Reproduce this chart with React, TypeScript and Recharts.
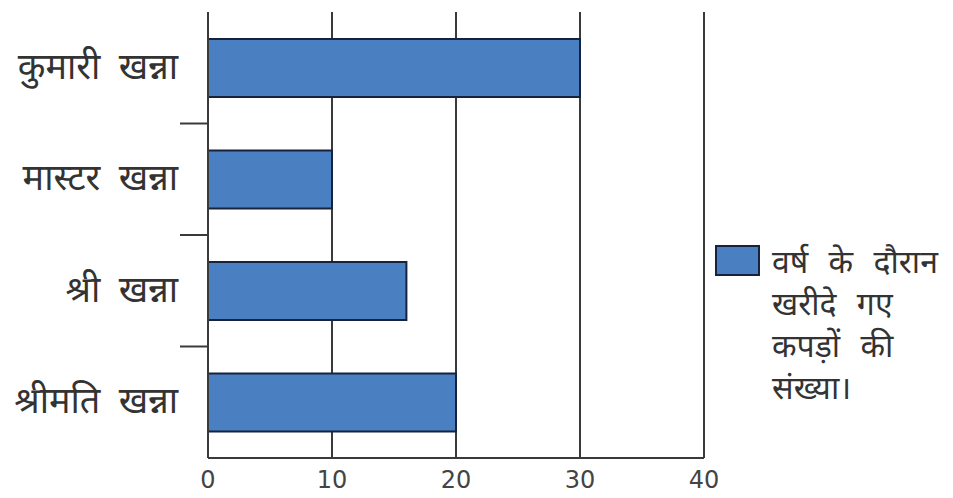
import { BarChart, Bar, XAxis, YAxis, CartesianGrid } from 'recharts';

// data
const persons = ['कुमारी खन्ना', 'मास्टर खन्ना', 'श्री खन्ना', 'श्रीमति खन्ना'];
const clothesBought = [30, 10, 16, 20];
const xTicks = [0, 10, 20, 30, 40];
const legendLines = ['वर्ष के दौरान', 'खरीदे गए', 'कपड़ों की', 'संख्या।'];

const chartData = persons.map((name, i) => ({
  name,
  value: clothesBought[i],
}));

const FONT = '"Noto Sans", "DejaVu Sans", sans-serif';
const BAR_FILL = '#4a80c2';
const BAR_STROKE = '#15233f';
const LINE = '#3a3a3a';

// y tick: label + small mark at the boundary above each band (not the first)
function PersonTick(props: any) {
  const { x, y, payload, index } = props;
  const off = payload?.offset ?? 0;
  const ax = x + 8; // tick x is shifted by tickSize, get back to the axis line
  return (
    <g>
      {index > 0 && (
        <line x1={ax - 28} x2={ax} y1={y - off} y2={y - off} stroke={LINE} strokeWidth={2} />
      )}
      <text
        x={ax - 30}
        y={y}
        dy={11}
        textAnchor="end"
        fill="#333"
        fontSize={36}
        wordSpacing={9}
        fontFamily={FONT}
      >
        {payload.value}
      </text>
    </g>
  );
}

export default function App() {
  return (
    <div style={{ position: 'absolute', left: 0, top: 0, width: 953, height: 498, background: '#fff' }}>
      <BarChart
        width={953}
        height={498}
        data={chartData}
        layout="vertical"
        margin={{ top: 12, right: 249, bottom: 0, left: 0 }}
        barSize={58}
      >
        <CartesianGrid horizontal={false} stroke={LINE} strokeWidth={2} />
        <XAxis
          type="number"
          domain={[0, 40]}
          ticks={xTicks}
          axisLine={{ stroke: LINE, strokeWidth: 2 }}
          tickLine={false}
          tickMargin={7}
          tick={{ fill: '#444', fontSize: 24, fontFamily: '"DejaVu Sans", sans-serif' }}
          height={40}
        />
        <YAxis
          type="category"
          dataKey="name"
          width={208}
          axisLine={{ stroke: LINE, strokeWidth: 2 }}
          tickLine={false}
          tick={<PersonTick />}
        />
        <Bar
          dataKey="value"
          fill={BAR_FILL}
          stroke={BAR_STROKE}
          strokeWidth={2}
          isAnimationActive={false}
        />
      </BarChart>
      <div
        style={{
          position: 'absolute',
          left: 715,
          top: 240,
          display: 'flex',
          alignItems: 'flex-start',
          fontFamily: FONT,
          color: '#333',
        }}
      >
        <div
          style={{
            width: 45,
            height: 31,
            background: BAR_FILL,
            border: `2px solid ${BAR_STROKE}`,
            marginTop: 5,
            marginRight: 12,
            boxSizing: 'border-box',
          }}
        />
        <div style={{ fontSize: 32, lineHeight: '42px', wordSpacing: 12, whiteSpace: 'nowrap' }}>
          {legendLines.map((l) => (
            <div key={l}>{l}</div>
          ))}
        </div>
      </div>
    </div>
  );
}
